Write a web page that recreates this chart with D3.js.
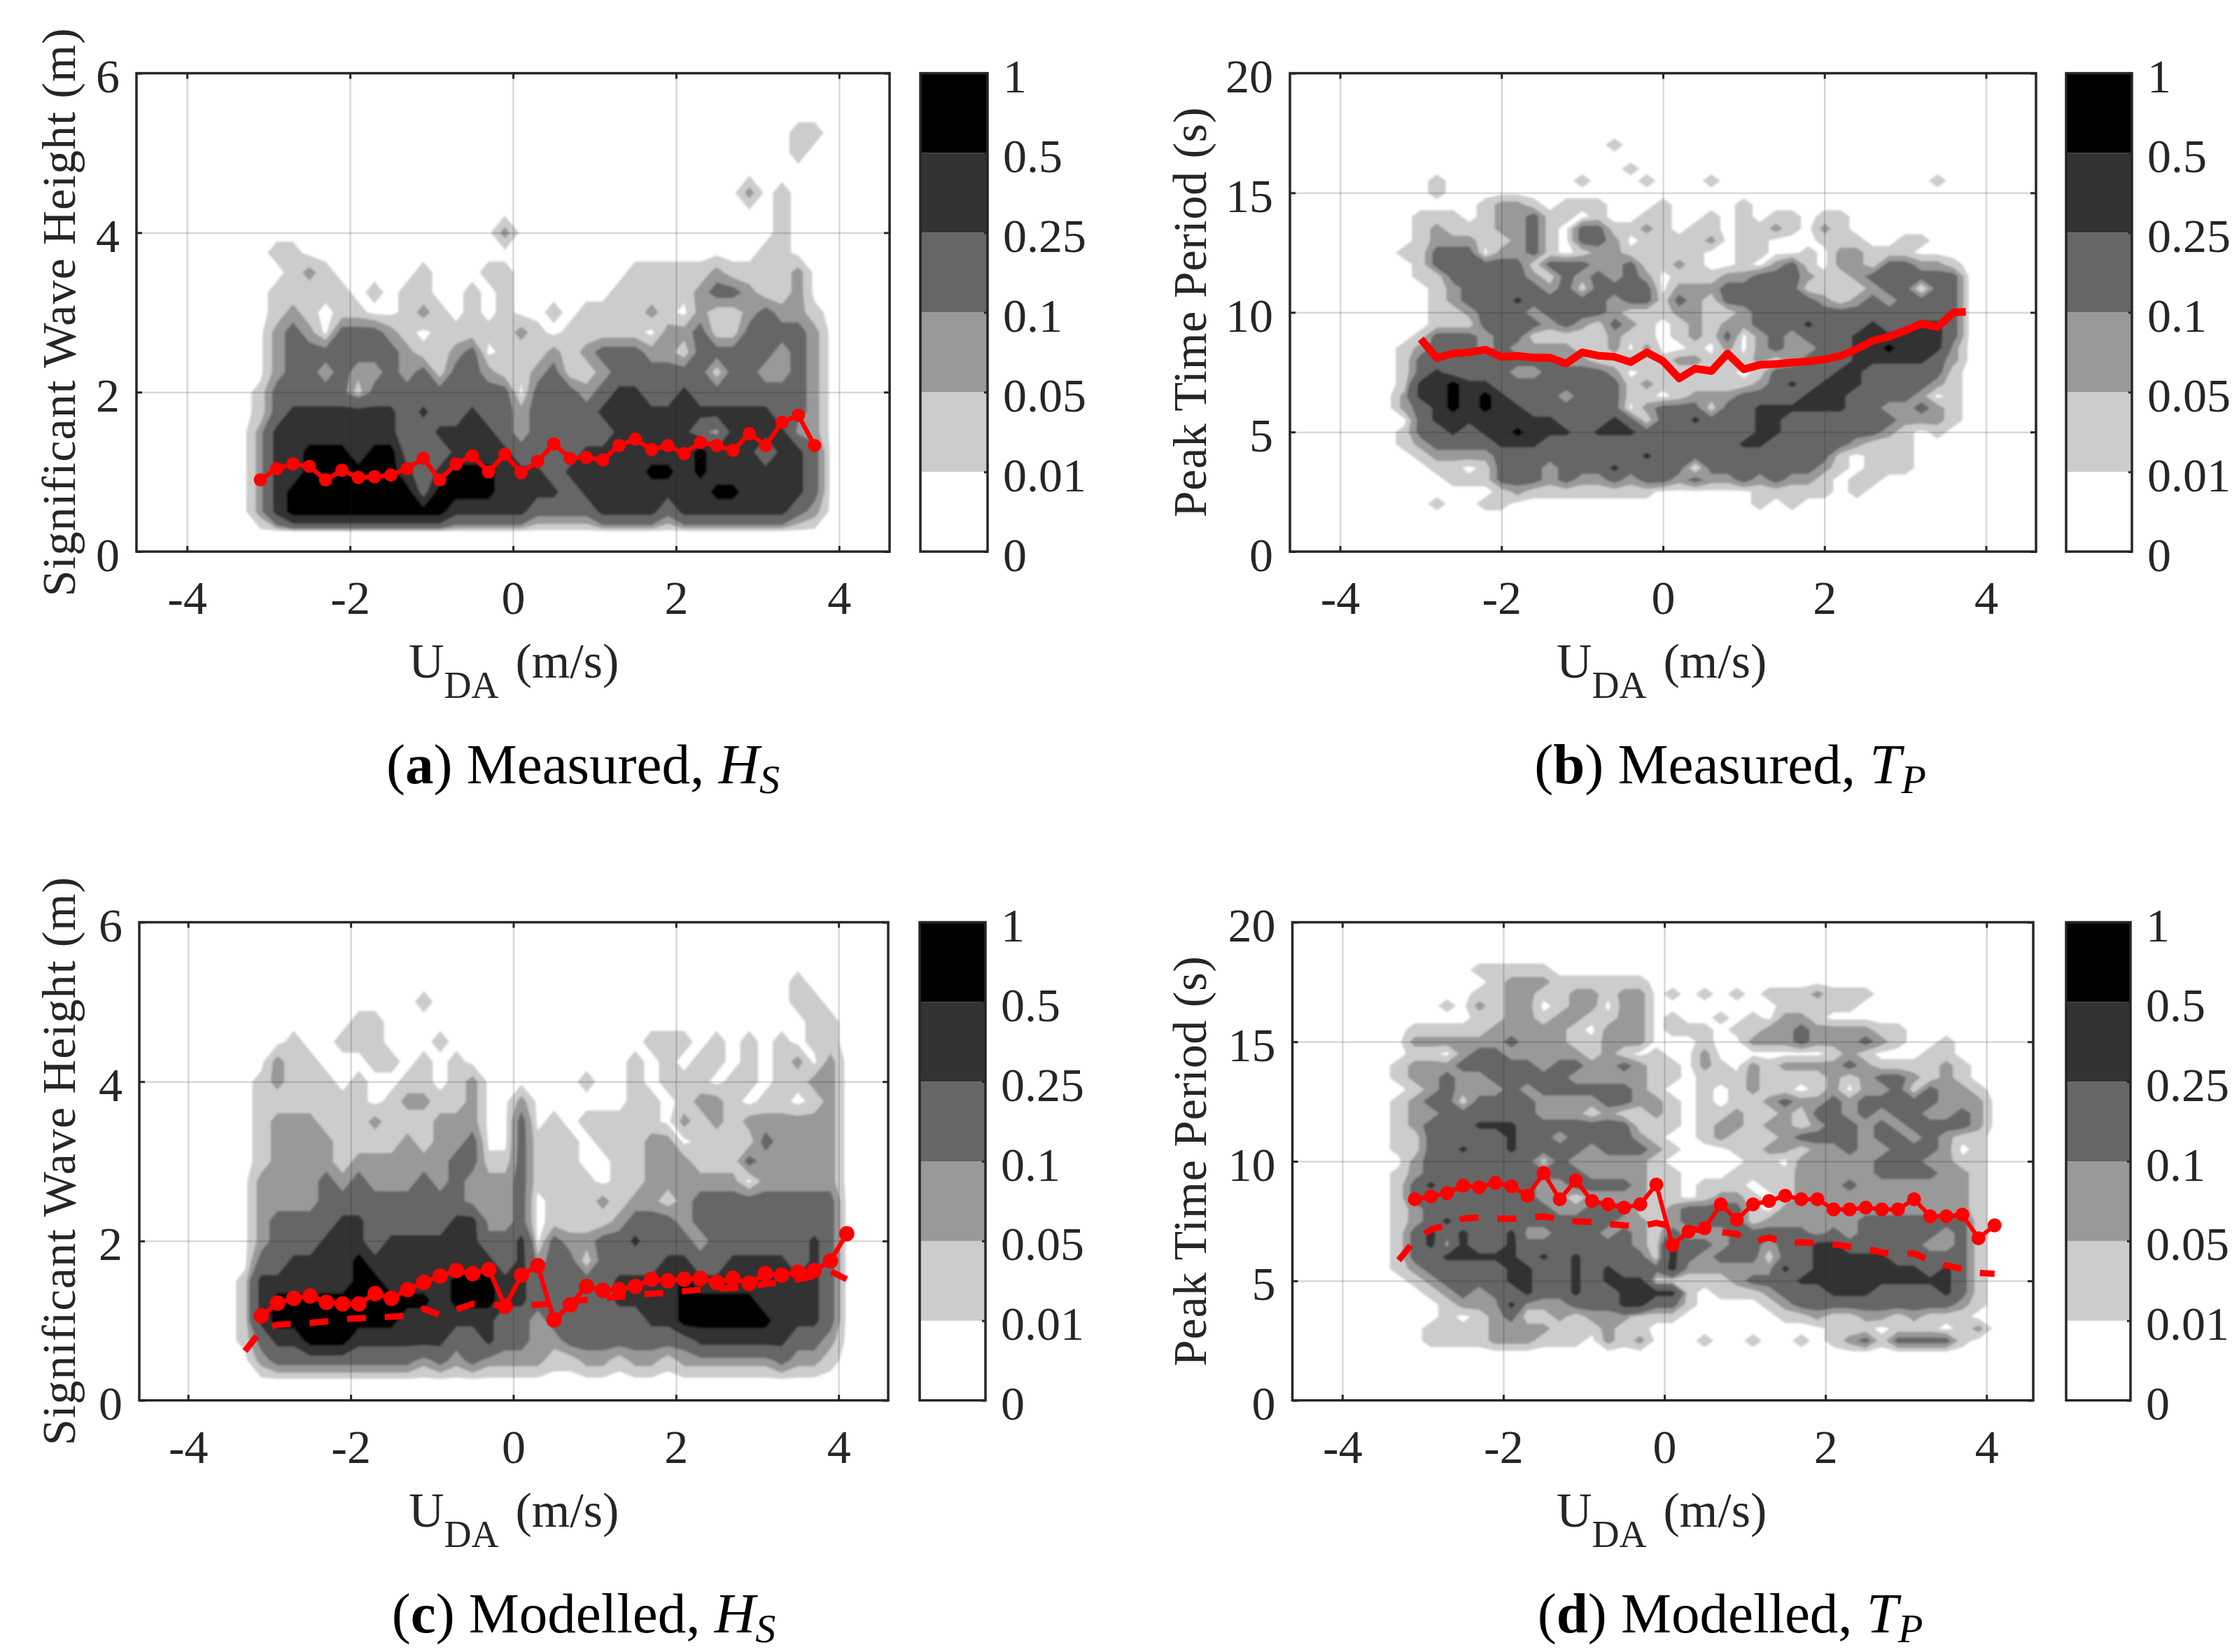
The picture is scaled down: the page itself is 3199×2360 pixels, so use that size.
<!DOCTYPE html>
<html lang="en">
<head>
<meta charset="UTF-8">
<title>Wave height and period against depth averaged current</title>
<style>
  body { margin: 0; background: #fff; }
  text { font-family: "Liberation Serif", serif; fill: #262626; }
</style>
</head>
<body>
<svg id="chart" width="3199" height="2360"></svg>
<script src="https://d3js.org/d3.v7.min.js"></script>
<script>
// colour bar classes, lowest first
const colorbarLabels = ['0', '0.01', '0.05', '0.1', '0.25', '0.5', '1'];
const classGreys = ['#ffffff', '#cccccc', '#999999', '#666666', '#333333', '#000000'];
const contourLevels = [0.01, 0.05, 0.1, 0.25, 0.5];
// density read for a grid digit (0 = white ... 5 = black)
const digitDensity = [0, 0.022, 0.07, 0.13, 0.3, 0.62];

const uTicks = [-4, -2, 0, 2, 4];
const hsTicks = [0, 2, 4, 6];
const tpTicks = [0, 5, 10, 15, 20];

// density class grids, one string per row, top row first, one digit per U bin
// panel a: U from -3.1 step 0.2, Hs from 5.25 down step 0.25
const gridA = [
  '00000000000000000000000000000000011',
  '00000000000000000000000000000000010',
  '00000000000000000000000000000000000',
  '00000000000000000000000000000020100',
  '00000000000000000000000000000000100',
  '00000000000000020000000000000000100',
  '01100000000000000000000000000001100',
  '00121000001000110000000111112111120',
  '01111101011001010000001111123321120',
  '01210110012101010010111121021123221',
  '02320333210111112101111102231133332',
  '02333333321123011121233322133333232',
  '02332322323133211231123333331332232',
  '13333313333333330333234433433333332',
  '13444444434334332333344444444444332',
  '24444444433444432333334444432444422',
  '24455545533344443333444444454443443',
  '24455555543455544434444455454444443',
  '24555555553555544443444444445544443',
  '24555555555544444333344443444444432',
  '00000000000000000000000000000000000'
];
const hsUa = [-3.1, -2.9, -2.7, -2.5, -2.3, -2.1, -1.9, -1.7, -1.5, -1.3, -1.1, -0.9, -0.7, -0.5, -0.3, -0.1, 0.1, 0.3, 0.5, 0.7, 0.9, 1.1, 1.3, 1.5, 1.7, 1.9, 2.1, 2.3, 2.5, 2.7, 2.9, 3.1, 3.3, 3.5, 3.7];
const hsMeasured = [0.90, 1.04, 1.10, 1.07, 0.90, 1.02, 0.93, 0.94, 0.96, 1.04, 1.17, 0.90, 1.10, 1.20, 1.00, 1.22, 0.99, 1.13, 1.35, 1.17, 1.18, 1.15, 1.33, 1.41, 1.28, 1.33, 1.23, 1.37, 1.33, 1.27, 1.48, 1.33, 1.62, 1.71, 1.33];

// panel b: U from -3.2 step 0.2, Tp from 17 down step 0.5
const gridB = [
  '000000000000010000000000000000000000',
  '000000000000000000000000000000000000',
  '000000000000001000000000000000000000',
  '001000000001000100010000000000000100',
  '001000000000000000000000000000000000',
  '000001221011100010000100000000000000',
  '011101223110100110010101101100000000',
  '012111223103311210110112102100000000',
  '012221123103320111120110001110011000',
  '113330223101221111100110010221110000',
  '013333331333223112100102310221332210',
  '011333332132323201112233321123333330',
  '001233333231333302223333311112330330',
  '001233343333323313213333332123233330',
  '001123332333321112211233333333333330',
  '001113333232132101212233343334334430',
  '013332331111121101213023233344444430',
  '123332322221120200102023223344544420',
  '133333333322112112211121233344444320',
  '134333322333320111111013333443333310',
  '144544333333331211111123434443333210',
  '244545433323331101222333344433332010',
  '234545443333330233313344444433223210',
  '034444444433343133433344333333322210',
  '133434454443444333333344333333210100',
  '123333444333333333333443333321110000',
  '012222333333333433333333333101110000',
  '001101333233343333033333332101110000',
  '000111333232232332322323221011000000',
  '000000121111111100000011111010000000',
  '001001100000000000000010100000000000'
];
const tpUb = [-3.0, -2.8, -2.6, -2.4, -2.2, -2.0, -1.8, -1.6, -1.4, -1.2, -1.0, -0.8, -0.6, -0.4, -0.2, 0, 0.2, 0.4, 0.6, 0.8, 1.0, 1.2, 1.4, 1.6, 1.8, 2.0, 2.2, 2.4, 2.6, 2.8, 3.0, 3.2, 3.4, 3.6, 3.75];
const tpMeasured = [8.89, 8.09, 8.28, 8.33, 8.44, 8.14, 8.18, 8.11, 8.11, 7.86, 8.33, 8.19, 8.14, 7.92, 8.33, 7.97, 7.24, 7.65, 7.55, 8.28, 7.62, 7.81, 7.84, 7.91, 7.95, 8.04, 8.18, 8.47, 8.82, 8.99, 9.24, 9.53, 9.39, 10.0, 10.02];

// panel c: U from -3.3 step 0.2, Hs from 5.25 down step 0.25
const gridC = [
  '0000000000000000000000000000000000100',
  '0000000000010000000000000000000000110',
  '0000000110000000000000000000000000011',
  '0001001110001000000000000111010101011',
  '0021100011010100000000001010110101202',
  '0121110100110120000001001011101101122',
  '0111111101221120020000001101221011012',
  '0122211121112220030101111102121222222',
  '0122221111212230031110111220111132222',
  '0122221222222331131110011222111322222',
  '0222232322232322231111011222222022222',
  '0222233333333322230111212212333333333',
  '0233334433333442230111123332333333333',
  '0233344434444443340322334333233333343',
  '0334444544444444342331333344334444343',
  '1444444554444555443333344445444444443',
  '1455555555554555443333344445555544443',
  '1455555555444444332333333445555554443',
  '1344555444444334332233333333444444332',
  '0233333333323232222112212212222223221',
  '0000000000000000000000000000000000000'
];
const hsU = [-3.1, -2.9, -2.7, -2.5, -2.3, -2.1, -1.9, -1.7, -1.5, -1.3, -1.1, -0.9, -0.7, -0.5, -0.3, -0.1, 0.1, 0.3, 0.5, 0.7, 0.9, 1.1, 1.3, 1.5, 1.7, 1.9, 2.1, 2.3, 2.5, 2.7, 2.9, 3.1, 3.3, 3.5, 3.7, 3.9, 4.1];
const hsModelled = [1.06, 1.22, 1.28, 1.31, 1.23, 1.21, 1.21, 1.34, 1.28, 1.39, 1.48, 1.56, 1.63, 1.59, 1.64, 1.18, 1.57, 1.69, 1.01, 1.20, 1.43, 1.38, 1.39, 1.43, 1.52, 1.50, 1.52, 1.53, 1.48, 1.53, 1.47, 1.59, 1.57, 1.61, 1.63, 1.75, 2.09];
const dashedU = [-3.3, -3.1, -2.9, -2.7, -2.5, -2.3, -2.1, -1.9, -1.7, -1.5, -1.3, -1.1, -0.9, -0.7, -0.5, -0.3, -0.1, 0.1, 0.3, 0.5, 0.7, 0.9, 1.1, 1.3, 1.5, 1.7, 1.9, 2.1, 2.3, 2.5, 2.7, 2.9, 3.1, 3.3, 3.5, 3.7, 3.9, 4.1];
const hsDashed = [0.62, 0.88, 0.95, 0.96, 0.97, 0.99, 1.02, 1.03, 1.04, 1.05, 1.06, 1.15, 1.07, 1.14, 1.21, 1.20, 1.19, 1.20, 1.20, 1.22, 1.24, 1.26, 1.28, 1.30, 1.32, 1.34, 1.35, 1.37, 1.39, 1.40, 1.41, 1.43, 1.46, 1.48, 1.52, 1.56, 1.62, 1.52];

// panel d: U from -3.3 step 0.2, Tp from 18 down step 0.5
const gridD = [
  '0000011111000000000000000000000000000',
  '0000001222111111000000000000000000000',
  '0000011221122122010101011121110000000',
  '0001021220122022000000001111100000000',
  '0000011221221122010010102210000000000',
  '0111112222210222011101122322221100000',
  '0222222322211222000100222322232100100',
  '0110233222221210100200000001210001100',
  '1222333332332232110210212222321111210',
  '1223223333322222110111211112123321210',
  '0123222323333332100101211012022313221',
  '1233133332222332210101123223233333222',
  '1223333332221211210112112133232332232',
  '1233344433333331110122122123323233332',
  '1133333433233332100121112333323323211',
  '1133433433332333210001122122322333201',
  '0233333331322222100000110222223332211',
  '1233333333332222110001111222223333221',
  '1343333332233332110111011222322222221',
  '1333333332212222110122101222222222221',
  '1233333333223331123333102222222222221',
  '1234333333333322123333122222233333331',
  '1343433422333232132223333323233333231',
  '1342433433333332143323323344333332231',
  '1334444434343333143233313344444333331',
  '1233333443343433342222224344444443431',
  '0123333443343444111112333444444444431',
  '0012323343343344441011123334443333431',
  '0001222422233344331000012333333333321',
  '0001012311212221110000001121122121110',
  '0011112222111211000000000001110111012',
  '0011112221110212000100100101231333310'
];
const tpModelled = [8.41, 8.53, 8.67, 8.98, 8.92, 9.10, 8.95, 8.56, 9.51, 8.41, 9.20, 8.34, 8.20, 8.06, 8.20, 9.03, 6.50, 7.06, 7.20, 8.20, 7.56, 8.20, 8.34, 8.56, 8.41, 8.41, 7.99, 7.99, 8.06, 7.99, 7.99, 8.41, 7.70, 7.70, 7.77, 6.78, 7.32];
const tpDashed = [5.86, 6.70, 7.14, 7.35, 7.60, 7.66, 7.60, 7.60, 7.63, 7.70, 7.56, 7.49, 7.46, 7.38, 7.32, 7.28, 7.42, 7.28, 7.20, 7.09, 7.04, 6.95, 6.64, 6.81, 6.60, 6.61, 6.57, 6.52, 6.43, 6.35, 6.18, 6.14, 6.14, 5.86, 5.64, 5.50, 5.33, 5.29];

const svg = d3.select('#chart');

svg.append('defs').append('filter')
  .attr('id', 'soft')
  .append('feGaussianBlur').attr('stdDeviation', 1.5);

function drawPanel(p) {
  const x = d3.scaleLinear().domain(p.uDomain).range([p.left, p.right]);
  const y = d3.scaleLinear().domain(p.yDomain).range([p.bottom, p.top]);
  const g = svg.append('g');

  // pad the grid with a ring of zeros so every contour closes
  const nx = p.grid[0].length + 2;
  const ny = p.grid.length + 2;
  const values = new Array(nx * ny).fill(0);
  p.grid.forEach((row, j) => {
    row.split('').forEach((c, i) => {
      values[(j + 1) * nx + i + 1] = digitDensity[+c];
    });
  });

  const toPage = d3.geoTransform({
    point(px, py) {
      this.stream.point(x(p.u0 + (px - 1.5) * p.du), y(p.yTop - (py - 1.5) * p.dy));
    }
  });
  const path = d3.geoPath(toPage);
  const contours = d3.contours().size([nx, ny]).thresholds(contourLevels)(values);

  g.append('g').attr('filter', 'url(#soft)')
    .selectAll('path')
    .data(contours)
    .enter()
    .append('path')
    .attr('d', path)
    .attr('fill', (d, i) => classGreys[i + 1]);

  const h = p.bottom - p.top;
  const w = p.right - p.left;

  // grid lines sit over the filled contours
  g.append('g')
    .attr('transform', `translate(0,${p.bottom})`)
    .call(d3.axisBottom(x).tickValues(uTicks).tickSize(-h).tickFormat(''))
    .call(s => s.select('.domain').remove())
    .selectAll('line').attr('stroke', '#262626').attr('stroke-opacity', 0.18).attr('stroke-width', 2.5);
  g.append('g')
    .attr('transform', `translate(${p.left},0)`)
    .call(d3.axisLeft(y).tickValues(p.yTicks.slice(1, -1)).tickSize(-w).tickFormat(''))
    .call(s => s.select('.domain').remove())
    .selectAll('line').attr('stroke', '#262626').attr('stroke-opacity', 0.18).attr('stroke-width', 2.5);

  // curves
  const line = d3.line().x(d => x(d[0])).y(d => y(d[1]));
  if (p.dashed) {
    g.append('path')
      .attr('d', line(d3.zip(dashedU, p.dashed)))
      .attr('fill', 'none').attr('stroke', '#ff0000')
      .attr('stroke-width', 9).attr('stroke-dasharray', '27 27');
  }
  const pts = d3.zip(p.lineU, p.lineV);
  g.append('path')
    .attr('d', line(pts))
    .attr('fill', 'none').attr('stroke', '#ff0000')
    .attr('stroke-width', p.lineWidth).attr('stroke-linejoin', 'round');
  if (p.marker) {
    g.selectAll('circle.pt')
      .data(pts)
      .enter()
      .append('circle')
      .attr('class', 'pt')
      .attr('cx', d => x(d[0]))
      .attr('cy', d => y(d[1]))
      .attr('r', p.marker)
      .attr('fill', '#ff0000');
  }

  // frame, inward ticks on all four sides
  g.append('rect')
    .attr('x', p.left).attr('y', p.top).attr('width', w).attr('height', h)
    .attr('fill', 'none').attr('stroke', '#262626').attr('stroke-width', 3.5);

  const tickStyle = s => {
    s.select('.domain').remove();
    s.selectAll('line').attr('stroke', '#262626').attr('stroke-width', 3);
  };
  g.append('g').attr('transform', `translate(0,${p.bottom})`)
    .call(d3.axisBottom(x).tickValues(uTicks).tickSize(-8).tickFormat(d => d))
    .call(tickStyle)
    .selectAll('text').attr('y', 89).attr('dy', 0).attr('font-size', 68)
    .attr('font-family', '"Liberation Serif", serif').attr('fill', '#262626');
  g.append('g').attr('transform', `translate(0,${p.top})`)
    .call(d3.axisTop(x).tickValues(uTicks).tickSize(-8).tickFormat(''))
    .call(tickStyle);
  g.append('g').attr('transform', `translate(${p.left},0)`)
    .call(d3.axisLeft(y).tickValues(p.yTicks).tickSize(-8).tickFormat(d => d))
    .call(tickStyle)
    .selectAll('text').attr('x', -24).attr('dy', 27).attr('font-size', 68)
    .attr('font-family', '"Liberation Serif", serif').attr('fill', '#262626');
  g.append('g').attr('transform', `translate(${p.right},0)`)
    .call(d3.axisRight(y).tickValues(p.yTicks).tickSize(-8).tickFormat(''))
    .call(tickStyle);

  // y label
  g.append('text')
    .attr('transform', `translate(${p.yLabelX},${(p.top + p.bottom) / 2}) rotate(-90)`)
    .attr('text-anchor', 'middle')
    .attr('font-size', 68)
    .attr('textLength', p.yLabelLength)
    .attr('lengthAdjust', 'spacing')
    .text(p.yLabel);

  // x label with subscript
  const xl = g.append('text')
    .attr('x', p.xLabelX).attr('y', p.bottom + 180)
    .attr('font-size', 70);
  xl.append('tspan').text('U');
  xl.append('tspan').attr('dy', 29).attr('font-size', 54).text('DA');
  xl.append('tspan').attr('dy', -29).attr('dx', 24).text('(m/s)');

  // colour bar
  const cb = d3.scalePoint().domain(colorbarLabels).range([p.bottom, p.top]);
  g.selectAll('rect.cls')
    .data(classGreys)
    .enter()
    .append('rect')
    .attr('class', 'cls')
    .attr('x', p.cbLeft)
    .attr('width', p.cbRight - p.cbLeft)
    .attr('y', (d, i) => cb(colorbarLabels[i + 1]))
    .attr('height', (d, i) => cb(colorbarLabels[i]) - cb(colorbarLabels[i + 1]))
    .attr('fill', d => d);
  g.append('rect')
    .attr('x', p.cbLeft).attr('y', p.top)
    .attr('width', p.cbRight - p.cbLeft).attr('height', h)
    .attr('fill', 'none').attr('stroke', '#262626').attr('stroke-width', 3.5);
  g.append('g').attr('transform', `translate(${p.cbRight},0)`)
    .call(d3.axisRight(cb).tickSize(-5).tickFormat(d => d))
    .call(tickStyle)
    .selectAll('text').attr('x', 22).attr('dy', 27).attr('font-size', 68)
    .attr('font-family', '"Liberation Serif", serif').attr('fill', '#262626');

  // caption
  const cap = svg.append('text')
    .attr('x', p.capX).attr('y', p.bottom + 331)
    .attr('text-anchor', 'middle')
    .attr('font-size', 81)
    .attr('style', 'fill:#000');
  cap.append('tspan').text('(');
  cap.append('tspan').attr('font-weight', 'bold').text(p.capTag);
  cap.append('tspan').text(') ' + p.capText + ', ');
  cap.append('tspan').attr('font-style', 'italic').text(p.capVar);
  cap.append('tspan').attr('font-style', 'italic').attr('font-size', 58).attr('dy', 14).text(p.capSub);
}

const topRow = { top: 104.6, bottom: 788 };
const lowRow = { top: 1317.5, bottom: 2000.5 };

drawPanel({
  ...topRow, left: 195, right: 1271, uDomain: [-4.62, 4.62],
  yDomain: [0, 6], yTicks: hsTicks, yLabel: 'Significant Wave Height (m)', yLabelX: 107, yLabelLength: 812,
  grid: gridA, u0: -3.1, du: 0.2, yTop: 5.25, dy: 0.25,
  lineU: hsUa, lineV: hsMeasured, lineWidth: 6.5, marker: 9.5,
  xLabelX: 584, cbLeft: 1315, cbRight: 1411, capX: 833, capTag: 'a', capText: 'Measured', capVar: 'H', capSub: 'S'
});
drawPanel({
  ...topRow, left: 1843, right: 2909, uDomain: [-4.62, 4.62],
  yDomain: [0, 20], yTicks: tpTicks, yLabel: 'Peak Time Period (s)', yLabelX: 1723, yLabelLength: 586,
  grid: gridB, u0: -3.2, du: 0.2, yTop: 17, dy: 0.5,
  lineU: tpUb, lineV: tpMeasured, lineWidth: 11,
  xLabelX: 2224, cbLeft: 2952, cbRight: 3046, capX: 2472, capTag: 'b', capText: 'Measured', capVar: 'T', capSub: 'P'
});
drawPanel({
  ...lowRow, left: 199, right: 1269, uDomain: [-4.6, 4.61],
  yDomain: [0, 6], yTicks: hsTicks, yLabel: 'Significant Wave Height (m)', yLabelX: 107, yLabelLength: 812,
  grid: gridC, u0: -3.3, du: 0.2, yTop: 5.25, dy: 0.25,
  lineU: hsU, lineV: hsModelled, dashed: hsDashed, lineWidth: 6.5, marker: 11,
  xLabelX: 584, cbLeft: 1314, cbRight: 1408, capX: 834, capTag: 'c', capText: 'Modelled', capVar: 'H', capSub: 'S'
});
drawPanel({
  ...lowRow, left: 1846.5, right: 2905, uDomain: [-4.62, 4.58],
  yDomain: [0, 20], yTicks: tpTicks, yLabel: 'Peak Time Period (s)', yLabelX: 1723, yLabelLength: 586,
  grid: gridD, u0: -3.3, du: 0.2, yTop: 18, dy: 0.5,
  lineU: hsU, lineV: tpModelled, dashed: tpDashed, lineWidth: 6, marker: 10,
  xLabelX: 2224, cbLeft: 2952, cbRight: 3044, capX: 2472, capTag: 'd', capText: 'Modelled', capVar: 'T', capSub: 'P'
});
</script>
</body>
</html>
